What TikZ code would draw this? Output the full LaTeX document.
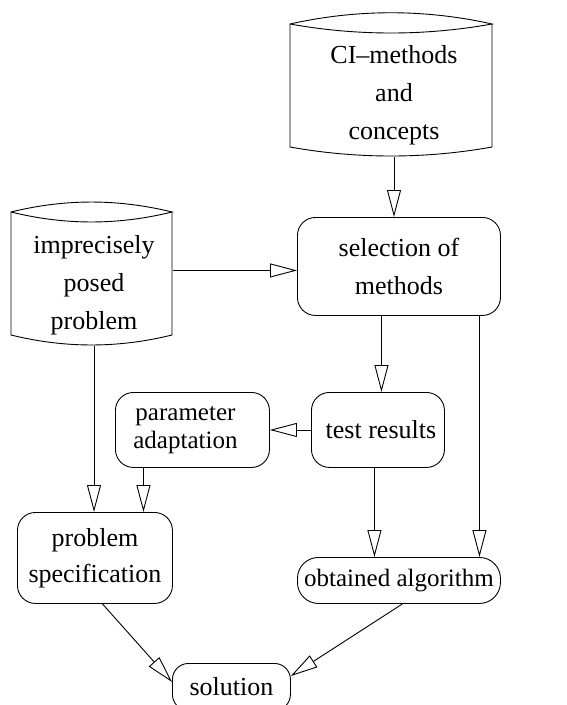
\documentclass[tikz,border=0pt]{standalone}
\usepackage{fontspec}
\setmainfont{Liberation Serif}
\usetikzlibrary{arrows.meta,calc}
\begin{document}
\begin{tikzpicture}[x=1pt,y=-1pt, line width=0.9pt,
  box/.style={draw, rounded corners=18pt, inner sep=0pt, align=center, anchor=north west, font=\fontsize{26}{38}\selectfont},
  txt/.style={inner sep=0pt, align=center, font=\fontsize{26}{38}\selectfont},
  area/.style={inner sep=0pt, anchor=north west},
  arr/.style={-{Triangle[open,length=27pt,width=14pt]}}]
\useasboundingbox (0,0) rectangle (566,705);
% cylinder areas
\node[area, minimum width=202pt, minimum height=143pt] (ci) at (290,13) {};
\node[area, minimum width=161pt, minimum height=143pt] (imp) at (11,202) {};
\draw (290,24) .. controls (357,9) and (425,9) .. (492,24) .. controls (425,36) and (357,36) .. (290,24) -- (290,147) .. controls (357,159) and (425,159) .. (492,147) -- (492,24);
\draw (11,212) .. controls (65,198.7) and (118,198.7) .. (172,212) .. controls (118,225.3) and (65,225.3) .. (11,212) -- (11,335) .. controls (65,348.3) and (118,348.3) .. (172,335) -- (172,212);
\node[txt] (citext) at (394,95) {CI\textendash methods\\and\\concepts};
\node[txt] (imptext) at (94,285) {imprecisely\\posed\\problem};
% boxes
\node[box, minimum width=203pt, minimum height=98pt] (sel) at (297,217) {selection of\\methods};
\node[box, minimum width=154pt, minimum height=75pt, font=\fontsize{25}{28}\selectfont] (param) at (115,392) {parameter\hspace*{14pt}\\adaptation\hspace*{14pt}};
\node[box, minimum width=133pt, minimum height=75pt] (test) at (311,392) {test results\hspace*{-6pt}};
\node[box, minimum width=155pt, minimum height=91pt, font=\fontsize{26}{36}\selectfont] (spec) at (17,512) {problem\\specification};
\node[box, minimum width=203pt, minimum height=46pt, rounded corners=21pt, font=\fontsize{25}{30}\selectfont] (alg) at (297,557) {obtained algorithm};
\node[box, minimum width=118pt, minimum height=47pt, rounded corners=16pt] (sol) at (172,663) {solution};
% connectors
\draw[arr] (citext.center |- ci.south) -- (citext.center |- sel.north);
\draw[arr] ([yshift=3.5pt]imp.east) -- ([yshift=3.5pt]imp.east -| sel.west);
\draw[arr] (imptext.center |- imp.south) -- (imptext.center |- spec.north);
\draw[arr] ([xshift=-17.5pt]sel.south) -- ([xshift=-17.5pt]sel.south |- test.north);
\draw[arr] ([xshift=80.5pt]sel.south) -- ([xshift=80.5pt]sel.south |- alg.north);
\draw[arr] (test.west) -- (param.east);
\draw[arr] ([xshift=-49pt]param.south) -- ([xshift=-49pt]param.south |- spec.north);
\draw[arr] ([xshift=-3.5pt]test.south) -- ([xshift=-3.5pt]test.south |- alg.north);
\draw[arr] ([xshift=7.5pt]spec.south) -- ([yshift=5pt]sol.west);
\draw[arr] ([xshift=3.5pt]alg.south) -- ([yshift=11pt]sol.east);
\end{tikzpicture}
\end{document}
